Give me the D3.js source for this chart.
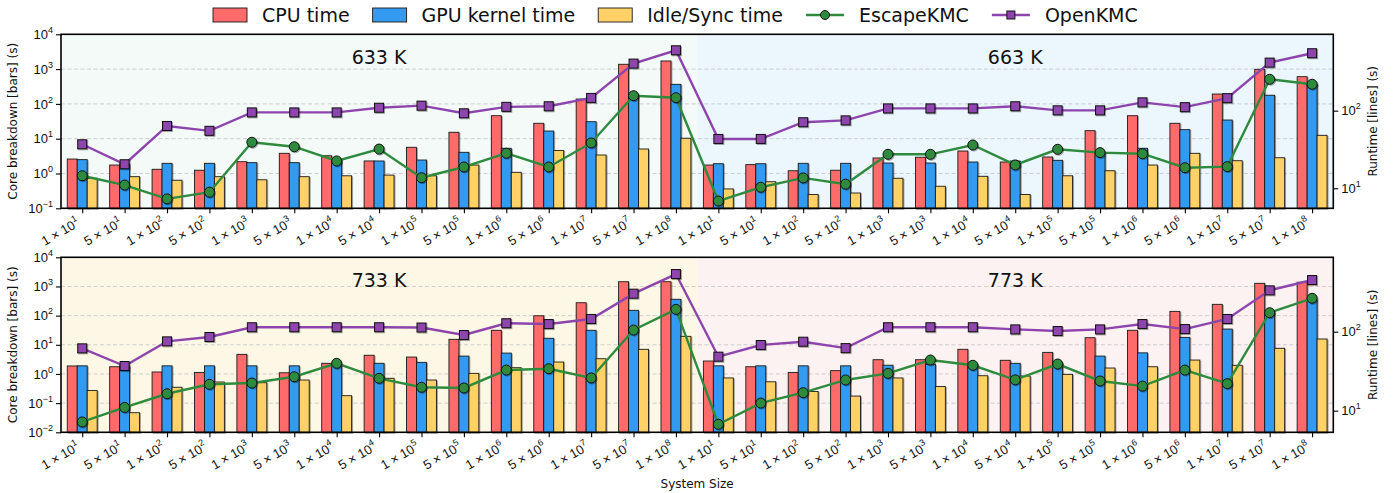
<!DOCTYPE html>
<html>
<head>
<meta charset="utf-8">
<script src="https://cdn.jsdelivr.net/npm/d3@7"></script>
<style>
  body { margin: 0; background: #fff; }
  svg { font-family: "DejaVu Sans", sans-serif; }
</style>
</head>
<body>
<svg id="chart" width="1398" height="493"></svg>
<script>
// system sizes as [mantissa, exponent]
const sizes = [[1,1],[5,1],[1,2],[5,2],[1,3],[5,3],[1,4],[5,4],[1,5],[5,5],[1,6],[5,6],[1,7],[5,7],[1,8]];

// 633 K
const cpu633  = [2.6, 1.75, 1.32, 1.24, 2.18, 3.8, 3.24, 2.29, 5.66, 15.3, 45.8, 27.7, 138, 1374, 1710];
const gpu633  = [2.5, 1.9, 1.96, 1.96, 2.05, 2.05, 2.4, 2.29, 2.44, 4.06, 5.3, 16.6, 30.8, 161, 365];
const idle633 = [0.73, 0.81, 0.64, 0.81, 0.66, 0.81, 0.86, 0.9, 0.86, 1.75, 1.08, 4.6, 3.4, 5.06, 10.3];
const esc633  = [14.5, 11.0, 7.3, 8.9, 39.2, 34.3, 22.5, 32, 13.7, 18.8, 28.3, 18.8, 38.4, 156, 147];
const open633 = [36.9, 20.4, 63.5, 55, 95, 95, 95, 109, 116, 92.5, 112, 114, 146, 404, 600];

// 663 K
const cpu663  = [1.75, 1.8, 1.2, 1.24, 2.79, 2.93, 4.43, 2.14, 2.98, 17, 45.8, 27.7, 192, 986, 605];
const gpu663  = [1.91, 1.91, 1.96, 1.96, 2.0, 2.0, 2.14, 2.29, 2.39, 3.8, 5.3, 18.2, 34.4, 177, 365];
const idle663 = [0.36, 0.58, 0.25, 0.275, 0.73, 0.43, 0.83, 0.25, 0.86, 1.2, 1.75, 3.8, 2.33, 2.84, 12.5];
const esc663  = [6.85, 10.3, 13.6, 11.3, 27.4, 27.4, 36.1, 20, 31.8, 28.8, 27.9, 18.4, 19, 254, 219];
const open663 = [43.2, 43.2, 71, 75, 107, 107, 107, 114, 101, 101, 128, 111, 145, 416, 550];

// 733 K
const cpu733  = [1.88, 1.77, 1.17, 1.13, 4.7, 1.1, 2.32, 4.37, 3.8, 15.4, 31.4, 99, 277, 1455, 1455];
const gpu733  = [1.9, 1.9, 1.9, 1.9, 1.9, 1.9, 2.0, 2.32, 2.5, 4.1, 5.2, 16.7, 31.4, 152, 363];
const idle733 = [0.27, 0.047, 0.35, 0.53, 0.5, 0.62, 0.18, 0.71, 0.62, 1.05, 1.64, 2.57, 3.33, 7, 19.5];
const esc733  = [7.2, 11, 16.4, 21.6, 22.4, 26.9, 39.8, 25.7, 19.8, 19.4, 32.7, 34, 26, 105, 192];
const open733 = [61.6, 36.8, 75.5, 85.7, 114, 114, 114, 114, 113, 90.8, 128, 125, 145, 303, 537];

// 773 K
const cpu773  = [2.78, 1.77, 1.13, 1.3, 3.08, 3.08, 7, 2.94, 5.5, 17.5, 31.4, 140, 244, 1280, 1400];
const gpu773  = [1.9, 1.9, 1.9, 1.9, 2.0, 2.14, 2.1, 2.32, 2.32, 4.1, 5.3, 18, 34.7, 130, 344];
const idle773 = [0.73, 0.54, 0.25, 0.175, 0.73, 0.37, 0.87, 0.85, 0.97, 1.6, 1.77, 3.0, 1.98, 7.6, 15.8];
const esc773  = [6.73, 12.5, 16.9, 24.5, 29.7, 43.8, 37.6, 24.6, 39, 23.8, 20.5, 32.7, 22, 174, 265];
const open773 = [48.3, 67.9, 74.7, 62, 114, 114, 114, 107, 102, 107, 125, 108, 145, 334, 451];

const barNames = ["CPU time", "GPU kernel time", "Idle/Sync time"];
const barColors = ["#ff6b6b", "#339af0", "#ffd166"];
const escColor = "#2e8b3e", openColor = "#8e44ad";

const panels = [
  { top: 34.3, bottom: 208.3, yDomain: [1e-1, 1e4], rDomain: [5.52, 964],
    halves: [
      { temp: "633 K", bg: "#f3faf8", bars: [cpu633, gpu633, idle633], esc: esc633, open: open633 },
      { temp: "663 K", bg: "#ebf6fd", bars: [cpu663, gpu663, idle663], esc: esc663, open: open663 }
    ] },
  { top: 257.3, bottom: 432.3, yDomain: [1e-2, 1e4], rDomain: [5.33, 875],
    halves: [
      { temp: "733 K", bg: "#fdf8e6", bars: [cpu733, gpu733, idle733], esc: esc733, open: open733 },
      { temp: "773 K", bg: "#fdf2f2", bars: [cpu773, gpu773, idle773], esc: esc773, open: open773 }
    ] }
];

const svg = d3.select("#chart");
const defs = svg.append("defs");
defs.append("filter").attr("id", "sh")
  .attr("x", "-30%").attr("y", "-30%").attr("width", "160%").attr("height", "160%")
  .append("feDropShadow")
  .attr("dx", 1).attr("dy", 1).attr("stdDeviation", 0.7)
  .attr("flood-color", "#000").attr("flood-opacity", 0.35);

const nCat = sizes.length * 2;
const x = d3.scaleLinear().domain([-0.5, nCat - 0.5]).range([61, 1333.3]);
const step = x(1) - x(0);
const bw = step * 0.235;

// superscript label helper: "10^e" or "m × 10^e"
function powText(sel, mant, exp, supSize, rise) {
  sel.text(null);
  const e = exp < 0 ? "\u2212" + Math.abs(exp) : String(exp);
  sel.append("tspan").text(mant == null ? "10" : mant + " \u00d7 10");
  sel.append("tspan").attr("font-size", supSize).attr("dy", -rise).text(e);
}

panels.forEach(p => {
  const g = svg.append("g");
  const yL = d3.scaleLog().domain(p.yDomain).range([p.bottom, p.top]);
  const yR = d3.scaleLog().domain(p.rDomain).range([p.bottom, p.top]);

  // shaded halves
  g.selectAll("rect.bg").data(p.halves).join("rect")
    .attr("x", (d, h) => x(h * sizes.length - 0.5))
    .attr("width", sizes.length * step)
    .attr("y", p.top).attr("height", p.bottom - p.top)
    .attr("fill", d => d.bg);

  // grid
  const e0 = Math.round(Math.log10(p.yDomain[0]));
  const decades = d3.range(e0, 5).map(e => Math.pow(10, e));
  g.selectAll("line.grid").data(decades.slice(1, -1)).join("line")
    .attr("x1", x.range()[0]).attr("x2", x.range()[1])
    .attr("y1", d => yL(d)).attr("y2", d => yL(d))
    .attr("stroke", "#c8c8c8").attr("stroke-width", 0.9)
    .attr("stroke-dasharray", "4,2.5");

  // bars
  const barData = [];
  p.halves.forEach((h, hi) => h.bars.forEach((arr, k) => arr.forEach((v, i) =>
    barData.push({ c: hi * sizes.length + i, k, v }))));
  g.append("g").selectAll("rect").data(barData).join("rect")
    .attr("x", d => x(d.c) + (d.k - 1) * bw - bw / 2)
    .attr("width", bw)
    .attr("y", d => yL(d.v))
    .attr("height", d => p.bottom - yL(d.v))
    .attr("fill", d => barColors[d.k])
    .attr("stroke", "#1a1a1a").attr("stroke-width", 0.9)
    .attr("filter", "url(#sh)");

  // runtime lines
  const esc = p.halves.flatMap(h => h.esc);
  const opn = p.halves.flatMap(h => h.open);
  const line = d3.line().x((d, i) => x(i)).y(d => yR(d));

  g.append("path").datum(esc).attr("d", line)
    .attr("fill", "none").attr("stroke", escColor).attr("stroke-width", 2.4);
  g.append("path").datum(opn).attr("d", line)
    .attr("fill", "none").attr("stroke", openColor).attr("stroke-width", 2.4);

  g.append("g").selectAll("circle").data(esc).join("circle")
    .attr("cx", (d, i) => x(i)).attr("cy", d => yR(d)).attr("r", 5)
    .attr("fill", escColor).attr("stroke", "#111").attr("stroke-width", 1)
    .attr("filter", "url(#sh)");
  g.append("g").selectAll("rect").data(opn).join("rect")
    .attr("x", (d, i) => x(i) - 4.5).attr("y", d => yR(d) - 4.5)
    .attr("width", 9).attr("height", 9)
    .attr("fill", openColor).attr("stroke", "#111").attr("stroke-width", 1)
    .attr("filter", "url(#sh)");

  // temperature labels
  g.selectAll("text.temp").data(p.halves).join("text")
    .attr("x", (d, h) => x(h * sizes.length + 7))
    .attr("y", p.top + 0.13 * (p.bottom - p.top))
    .attr("text-anchor", "middle").attr("dominant-baseline", "central")
    .attr("font-size", 19).attr("fill", "#111")
    .text(d => d.temp);

  // left axis
  const axL = g.append("g").attr("transform", `translate(${x.range()[0]},0)`)
    .call(d3.axisLeft(yL).tickValues(decades).tickSize(5).tickPadding(3).tickFormat(""));
  axL.select(".domain").remove();
  axL.selectAll(".tick line").attr("stroke", "#000").attr("stroke-width", 1.1);
  axL.selectAll(".tick text").attr("font-size", 13).attr("fill", "#111")
    .each(function (d) { powText(d3.select(this), null, Math.round(Math.log10(d)), 9, 6); });

  // right axis
  const axR = g.append("g").attr("transform", `translate(${x.range()[1]},0)`)
    .call(d3.axisRight(yR).tickValues([10, 100]).tickSize(5).tickPadding(3).tickFormat(""));
  axR.select(".domain").remove();
  axR.selectAll(".tick line").attr("stroke", "#000").attr("stroke-width", 1.1);
  axR.selectAll(".tick text").attr("font-size", 13).attr("fill", "#111")
    .each(function (d) { powText(d3.select(this), null, Math.round(Math.log10(d)), 9, 6); });

  // bottom axis
  const allSizes = sizes.concat(sizes);
  const axB = g.append("g").attr("transform", `translate(0,${p.bottom})`)
    .call(d3.axisBottom(x).tickValues(d3.range(nCat)).tickSize(5).tickFormat(""));
  axB.select(".domain").remove();
  axB.selectAll(".tick line").attr("stroke", "#000").attr("stroke-width", 1.1);
  axB.selectAll(".tick text").remove();
  axB.selectAll(".tick").append("text")
    .attr("transform", "translate(-2,17) rotate(-30)")
    .attr("text-anchor", "end").attr("font-size", 13).attr("fill", "#111")
    .each(function (d) { const s = allSizes[d]; powText(d3.select(this), s[0], s[1], 9, 6); });

  // frame
  g.append("rect")
    .attr("x", x.range()[0]).attr("y", p.top)
    .attr("width", x.range()[1] - x.range()[0]).attr("height", p.bottom - p.top)
    .attr("fill", "none").attr("stroke", "#000").attr("stroke-width", 1.6);

  // axis titles
  const cy = (p.top + p.bottom) / 2;
  g.append("text").attr("transform", `translate(13,${cy}) rotate(-90)`)
    .attr("text-anchor", "middle").attr("dominant-baseline", "central")
    .attr("font-size", 12).attr("fill", "#111").text("Core breakdown [bars] (s)");
  g.append("text").attr("transform", `translate(1373,${cy}) rotate(-90)`)
    .attr("text-anchor", "middle").attr("dominant-baseline", "central")
    .attr("font-size", 12).attr("fill", "#111").text("Runtime [lines] (s)");
});

svg.append("text").attr("x", x(14.5)).attr("y", 488)
  .attr("text-anchor", "middle").attr("font-size", 12).attr("fill", "#111")
  .text("System Size");

// legend
const legendItems = barNames.map((n, k) => ({ name: n, kind: "bar", color: barColors[k] }))
  .concat([{ name: "EscapeKMC", kind: "circle", color: escColor },
           { name: "OpenKMC", kind: "square", color: openColor }]);
const legend = svg.append("g");
let lx = 213;
const ly = 15;
legendItems.forEach(it => {
  const gi = legend.append("g");
  let w;
  if (it.kind === "bar") {
    w = 34;
    gi.append("rect").attr("x", lx).attr("y", ly - 7).attr("width", w).attr("height", 14)
      .attr("fill", it.color).attr("stroke", "#1a1a1a").attr("stroke-width", 0.9);
  } else {
    w = 38;
    gi.append("line").attr("x1", lx).attr("x2", lx + w).attr("y1", ly).attr("y2", ly)
      .attr("stroke", it.color).attr("stroke-width", 2.4);
    if (it.kind === "circle") {
      gi.append("circle").attr("cx", lx + w / 2).attr("cy", ly).attr("r", 4.5)
        .attr("fill", it.color).attr("stroke", "#111").attr("stroke-width", 1);
    } else {
      gi.append("rect").attr("x", lx + w / 2 - 4).attr("y", ly - 4).attr("width", 8).attr("height", 8)
        .attr("fill", it.color).attr("stroke", "#111").attr("stroke-width", 1);
    }
  }
  const t = gi.append("text").attr("x", lx + w + 15).attr("y", ly)
    .attr("dominant-baseline", "central").attr("font-size", 19).attr("fill", "#111")
    .text(it.name);
  lx = lx + w + 15 + t.node().getComputedTextLength() + 23;
});
</script>
</body>
</html>
